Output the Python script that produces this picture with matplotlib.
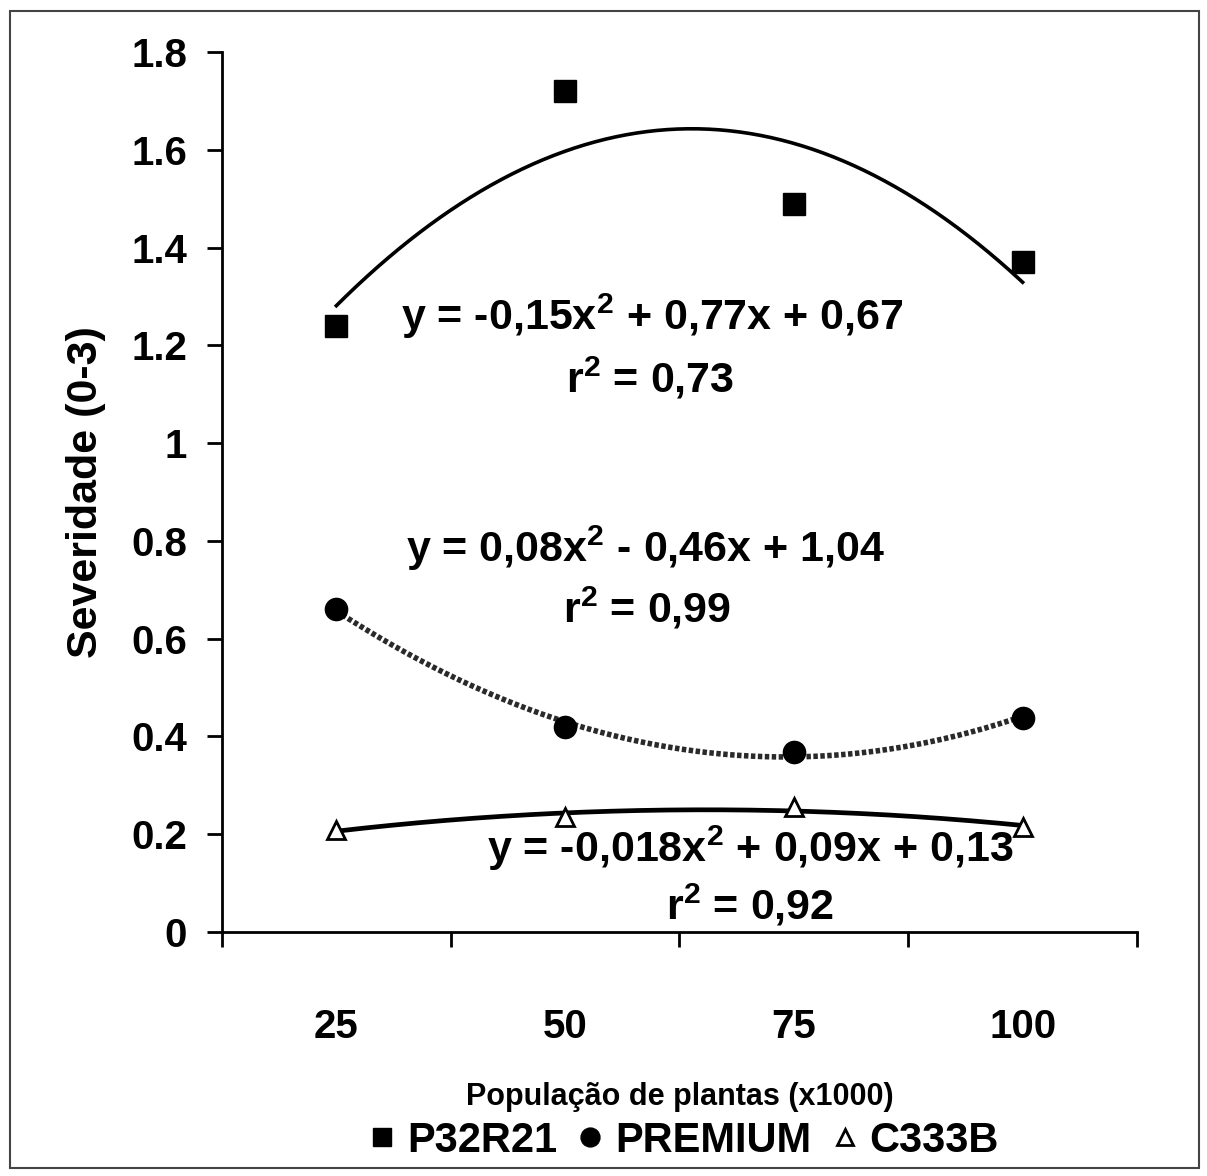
import numpy as np
import matplotlib
matplotlib.use('Agg')
import matplotlib.pyplot as plt
from matplotlib.patches import Rectangle

plt.rcParams['font.family'] = ['Liberation Sans', 'DejaVu Sans']
plt.rcParams['font.weight'] = 'bold'
plt.rcParams['axes.labelweight'] = 'bold'
plt.rcParams['mathtext.fontset'] = 'custom'
plt.rcParams['mathtext.rm'] = 'Liberation Sans:bold'
plt.rcParams['mathtext.bf'] = 'Liberation Sans:bold'
plt.rcParams['mathtext.it'] = 'Liberation Sans:bold'

# dados
populacao = [25, 50, 75, 100]
pos = [1, 2, 3, 4]
p32r21 = [1.24, 1.72, 1.49, 1.37]
premium = [0.66, 0.42, 0.368, 0.438]
c333b = [0.209, 0.235, 0.256, 0.215]

eq_p32r21 = r'y = -0,15$\mathrm{x^{2}}$ + 0,77x + 0,67'
r2_p32r21 = r'$\mathrm{r^{2}}$ = 0,73'
eq_premium = r'y = 0,08$\mathrm{x^{2}}$ - 0,46x + 1,04'
r2_premium = r'$\mathrm{r^{2}}$ = 0,99'
eq_c333b = r'y = -0,018$\mathrm{x^{2}}$ + 0,09x + 0,13'
r2_c333b = r'$\mathrm{r^{2}}$ = 0,92'

fig = plt.figure(figsize=(12.07, 11.76), dpi=100)
ax = fig.add_axes([0.1839, 0.2075, 0.7581, 0.7483])

# curvas de tendência (polinômio de 2º grau)
xs = np.linspace(1, 4, 200)
fit1 = np.polyval(np.polyfit(pos, p32r21, 2), xs)
fit2 = np.polyval(np.polyfit(pos, premium, 2), xs)
fit3 = np.polyval(np.polyfit(pos, c333b, 2), xs)
ax.plot(xs, fit1, color='black', lw=2.6, zorder=2)
ax.plot(xs, fit2, color='#2a2a2a', lw=4, linestyle=(0, (0.8, 0.45)), zorder=2)
ax.plot(xs, fit3, color='black', lw=3.4, zorder=2)

ax.plot(pos, p32r21, 's', color='black', ms=16, ls='none', label='P32R21', zorder=3)
ax.plot(pos, premium, 'o', color='black', ms=16, ls='none', label='PREMIUM', zorder=3)
ax.plot(pos, c333b, '^', mfc='white', mec='black', mew=2, ms=13, ls='none', label='C333B', zorder=3)

ax.text(2.38, 1.26, eq_p32r21, fontsize=31, ha='center', va='center')
ax.text(2.37, 1.133, r2_p32r21, fontsize=31, ha='center', va='center')
ax.text(2.35, 0.785, eq_premium, fontsize=31, ha='center', va='center')
ax.text(2.36, 0.663, r2_premium, fontsize=31, ha='center', va='center')
ax.text(2.81, 0.172, eq_c333b, fontsize=31, ha='center', va='center')
ax.text(2.81, 0.055, r2_c333b, fontsize=31, ha='center', va='center')

ax.set_xlim(0.5, 4.5)
ax.set_ylim(0, 1.8)
ax.spines['top'].set_visible(False)
ax.spines['right'].set_visible(False)
ax.spines['left'].set_linewidth(2)
ax.spines['bottom'].set_linewidth(2)

ax.set_xticks([0.5, 1.5, 2.5, 3.5, 4.5])
ax.set_xticklabels([])
ax.set_xticks(pos, minor=True)
ax.set_xticklabels([str(p) for p in populacao], minor=True)
ax.tick_params(axis='x', which='major', length=11, width=2, direction='out')
ax.tick_params(axis='x', which='minor', length=0, pad=55, labelsize=29)

yt = np.arange(0, 1.81, 0.2)
ax.set_yticks(yt)
ax.set_yticklabels(['0' if v == 0 else ('1' if abs(v - 1) < 1e-9 else f'{v:.1f}') for v in yt])
ax.tick_params(axis='y', length=11, width=2, direction='out', pad=14, labelsize=29)

ax.set_ylabel('Severidade (0-3)', fontsize=31, labelpad=18)
ax.set_xlabel('População de plantas (x1000)', fontsize=22, labelpad=26)

fig.legend(loc='center', bbox_to_anchor=(0.566, 0.030), ncol=3, frameon=False,
           fontsize=30, handletextpad=0.25, columnspacing=0.45, handlelength=0.7,
           markerscale=0.85)

fig.patches.append(Rectangle((0.008, 0.007), 0.985, 0.984, transform=fig.transFigure,
                             fill=False, edgecolor='#444444', lw=1.5))

plt.savefig('out.png', dpi=100)
plt.close()
